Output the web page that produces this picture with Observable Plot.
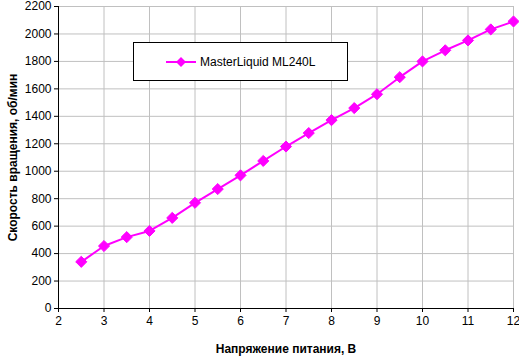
<!DOCTYPE html>
<html>
<head>
<meta charset="utf-8">
<script src="https://cdn.jsdelivr.net/npm/d3@7"></script>
<script src="https://cdn.jsdelivr.net/npm/@observablehq/plot@0.6"></script>
<style>
  body { margin: 0; background: #fff; }
  #wrap { position: relative; width: 519px; height: 357px; font-family: Arial, "Liberation Sans", sans-serif; }
  #legend { position: absolute; left: 133px; top: 42px; width: 213px; height: 37px; border: 1px solid #000; background: #fff; display: flex; align-items: center; font-size: 12px; }
</style>
</head>
<body>
<div id="wrap"></div>
<script>
const seriesName = "MasterLiquid ML240L";
const voltage = [2.5, 3, 3.5, 4, 4.5, 5, 5.5, 6, 6.5, 7, 7.5, 8, 8.5, 9, 9.5, 10, 10.5, 11, 11.5, 12];
const rpm = [340, 455, 520, 565, 660, 770, 870, 970, 1075, 1180, 1278, 1372, 1460, 1561, 1685, 1800, 1881, 1953, 2033, 2091];
const xTicks = [2, 3, 4, 5, 6, 7, 8, 9, 10, 11, 12];
const yTicks = [0, 200, 400, 600, 800, 1000, 1200, 1400, 1600, 1800, 2000, 2200];
const xLabel = "Напряжение питания, В";
const yLabel = "Скорость вращения, об/мин";
const color = "#ff00ff";

const data = voltage.map((v, i) => ({v, r: rpm[i]}));

const chart = Plot.plot({
  width: 519,
  height: 357,
  marginLeft: 58,
  marginRight: 6,
  marginTop: 6,
  marginBottom: 49,
  style: {fontFamily: "Arial, 'Liberation Sans', sans-serif", fontSize: "12px", color: "#000", background: "#fff", overflow: "visible"},
  x: {domain: [2, 12]},
  y: {domain: [0, 2200]},
  marks: [
    Plot.gridX(xTicks, {stroke: "#c0c0c0", strokeOpacity: 1, strokeWidth: 1}),
    Plot.gridY(yTicks, {stroke: "#c0c0c0", strokeOpacity: 1, strokeWidth: 1}),
    Plot.axisX(xTicks, {tickSize: 4, tickPadding: 4, label: null, fontSize: 12, tickFormat: d => String(d)}),
    Plot.axisY(yTicks, {tickSize: 4, tickPadding: 3, label: null, fontSize: 12, tickFormat: d => String(d)}),
    Plot.axisX([], {label: xLabel, labelAnchor: "center", labelOffset: 44, labelArrow: "none", fontWeight: "bold", fontSize: 12, tickSize: 0}),
    Plot.axisY([], {label: yLabel, labelAnchor: "center", labelOffset: 50, labelArrow: "none", fontWeight: "bold", fontSize: 12, tickSize: 0}),
    Plot.ruleX([2], {stroke: "#000"}),
    Plot.ruleY([0], {stroke: "#000"}),
    Plot.line(data, {x: "v", y: "r", stroke: color, strokeWidth: 2}),
    Plot.dot(data, {x: "v", y: "r", symbol: "diamond2", r: 5, fill: color, stroke: color, strokeWidth: 1})
  ]
});

const wrap = document.getElementById("wrap");
wrap.appendChild(chart);

const legend = document.createElement("div");
legend.id = "legend";
legend.innerHTML = `<svg width="34" height="14" style="margin-left:30px"><line x1="2" x2="32" y1="7" y2="7" stroke="${color}" stroke-width="2"/><path d="M17,2 L22,7 L17,12 L12,7 Z" fill="${color}"/></svg><span style="margin-left:2px">${seriesName}</span>`;
wrap.appendChild(legend);
</script>
</body>
</html>
